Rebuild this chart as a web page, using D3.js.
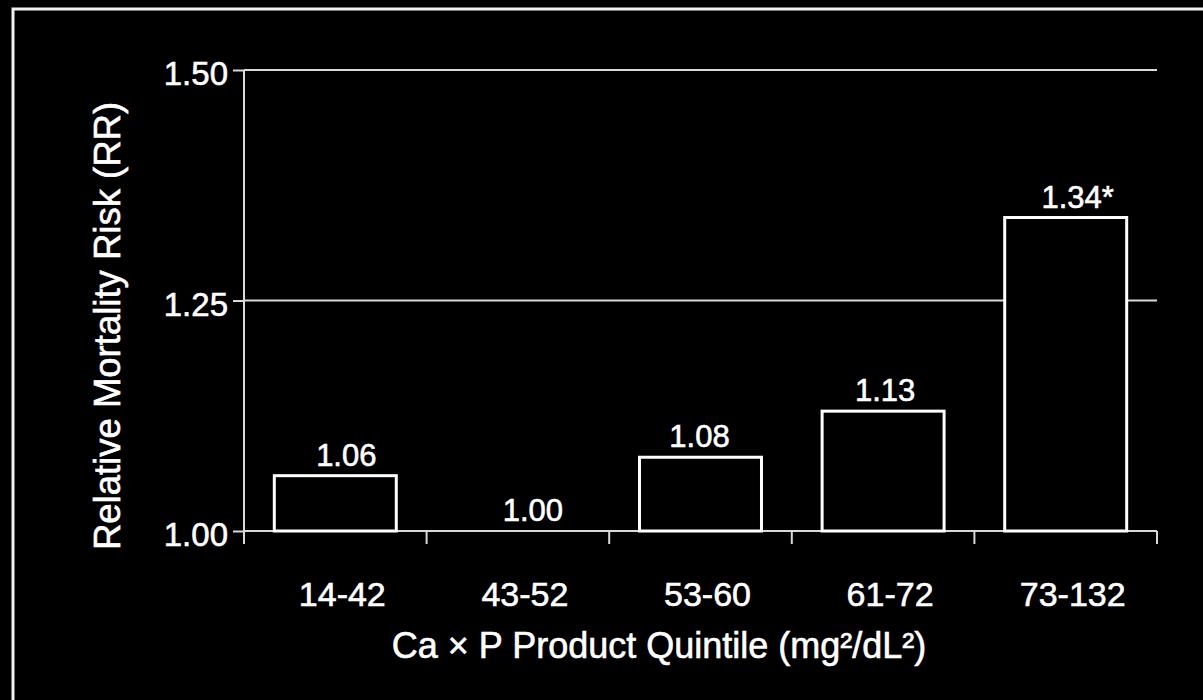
<!DOCTYPE html>
<html>
<head>
<meta charset="utf-8">
<script src="https://cdn.jsdelivr.net/npm/d3@7"></script>
<style>
	html, body { margin: 0; padding: 0; background: #000; }
	svg { display: block; }
	text { font-family: "Liberation Sans", Arial, sans-serif; fill: #fff; stroke: #fff; stroke-width: 0.6px; }
</style>
</head>
<body>
<div id="graph"></div>
<script>
var categories = ["14-42", "43-52", "53-60", "61-72", "73-132"],
	riskValues = [1.06, 1.00, 1.08, 1.13, 1.34],
	valueLabels = ["1.06", "1.00", "1.08", "1.13", "1.34*"],
	yTicks = [1.00, 1.25, 1.50];

var SVGwidth = 1203,
	SVGheight = 700,
	plot = {left: 244, right: 1157, top: 70, bottom: 531};

var svg = d3.select("div#graph")
			.append("svg")
			.attr("width", SVGwidth)
			.attr("height", SVGheight);

// outer frame (runs off the right and bottom edges)
svg.append("rect")
	.attr("x", 13).attr("y", 9)
	.attr("width", 1260).attr("height", 760)
	.attr("fill", "none")
	.attr("stroke", "#f2f2f2")
	.attr("stroke-width", 3);

var x = d3.scaleBand()
			.domain(categories)
			.range([plot.left, plot.right])
			.paddingInner(0.332)
			.paddingOuter(0.166),
	y = d3.scaleLinear()
			.domain([1.0, 1.5])
			.range([plot.bottom, plot.top]);

// gridlines
svg.append("g").attr("class", "grid")
	.selectAll("line")
	.data(yTicks.filter(function(d){ return d > 1; })).enter()
	.append("line")
	.attr("x1", plot.left).attr("x2", plot.right)
	.attr("y1", function(d){ return y(d); })
	.attr("y2", function(d){ return y(d); })
	.attr("stroke", "#d9d9d9")
	.attr("stroke-width", 2);

// y axis
var yAxis = svg.append("g")
			.attr("class", "y-axis")
			.attr("transform", "translate(" + plot.left + ",0)")
			.call(d3.axisLeft(y).tickValues(yTicks).tickFormat(d3.format(".2f")).tickSize(11).tickPadding(5));
yAxis.select(".domain").remove();
yAxis.selectAll(".tick line").attr("stroke", "#d9d9d9").attr("stroke-width", 2);
yAxis.selectAll(".tick text")
	.attr("fill", "#fff")
	.attr("dy", "0.45em")
	.style("font-size", "33px")
	.style("font-family", "'Liberation Sans', Arial, sans-serif");

svg.append("line")
	.attr("x1", plot.left).attr("x2", plot.left)
	.attr("y1", plot.top).attr("y2", plot.bottom + 13)
	.attr("stroke", "#d9d9d9")
	.attr("stroke-width", 2);

// baseline + category separators
svg.append("line")
	.attr("x1", plot.left).attr("x2", plot.right)
	.attr("y1", y(1)).attr("y2", y(1))
	.attr("stroke", "#d9d9d9")
	.attr("stroke-width", 2);

var step = x.step(),
	bounds = d3.range(categories.length + 1).map(function(i){ return plot.left + i * step; });

svg.append("g").attr("class", "x-ticks")
	.selectAll("line")
	.data(bounds.slice(1)).enter()
	.append("line")
	.attr("x1", function(d){ return d; }).attr("x2", function(d){ return d; })
	.attr("y1", y(1)).attr("y2", y(1) + 13)
	.attr("stroke", "#d9d9d9")
	.attr("stroke-width", 2);

// bars
svg.append("g").attr("class", "bars")
	.selectAll("rect")
	.data(riskValues.map(function(v, i){ return {cat: categories[i], v: v}; })
		.filter(function(d){ return d.v > 1; })).enter()
	.append("rect")
	.attr("x", function(d){ return x(d.cat); })
	.attr("y", function(d){ return y(d.v); })
	.attr("width", x.bandwidth())
	.attr("height", function(d){ return y(1) - y(d.v); })
	.attr("fill", "#000")
	.attr("stroke", "#fff")
	.attr("stroke-width", 3);

// value labels (small nudges as in the original slide)
var labelNudge = [11, 15, -1, 2, 12];
svg.append("g").attr("class", "value-labels")
	.selectAll("text")
	.data(riskValues).enter()
	.append("text")
	.attr("x", function(d, i){ return x(categories[i]) + x.bandwidth() / 2 + labelNudge[i]; })
	.attr("y", function(d){ return y(d) - 10; })
	.attr("text-anchor", "middle")
	.style("font-size", "31px")
	.text(function(d, i){ return valueLabels[i]; });

// category labels
svg.append("g").attr("class", "cat-labels")
	.selectAll("text")
	.data(categories).enter()
	.append("text")
	.attr("x", function(d){ return x(d) + x.bandwidth() / 2 + 7; })
	.attr("y", 606)
	.attr("text-anchor", "middle")
	.style("font-size", "34px")
	.text(function(d){ return d; });

// axis titles
svg.append("text")
	.attr("x", 659)
	.attr("y", 658)
	.attr("text-anchor", "middle")
	.style("font-size", "36px")
	.text("Ca × P Product Quintile (mg²/dL²)");

svg.append("text")
	.attr("transform", "translate(120,326) rotate(-90)")
	.attr("text-anchor", "middle")
	.style("font-size", "36.5px")
	.text("Relative Mortality Risk (RR)");
</script>
</body>
</html>
